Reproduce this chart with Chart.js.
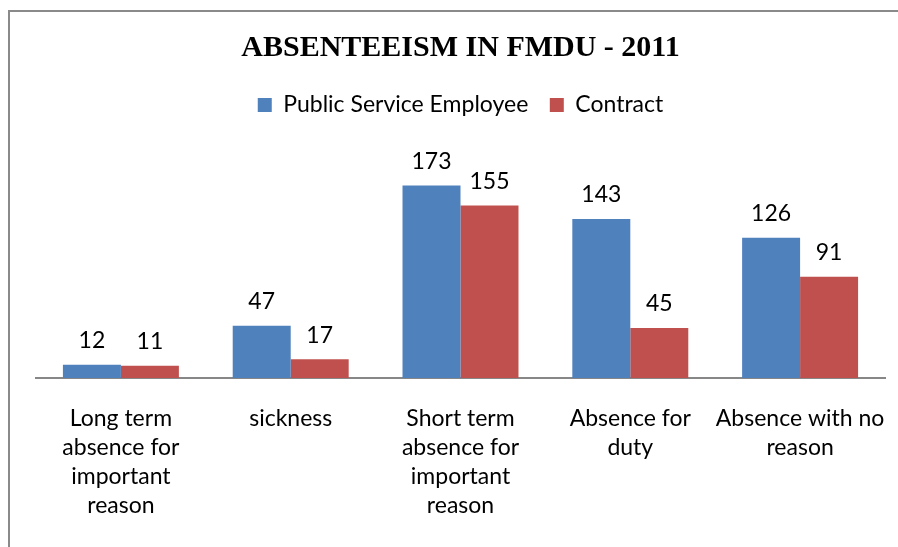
<!DOCTYPE html>
<html>
<head>
<meta charset="utf-8">
<script src="https://cdn.jsdelivr.net/npm/chart.js@4.4.1/dist/chart.umd.min.js"></script>
<style>
  html, body { margin: 0; padding: 0; background: #fff; overflow: hidden; }
  #frame {
    position: absolute; left: 8px; top: 10px; width: 960px; height: 600px;
    border-left: 2px solid #8a8a8a; border-top: 2px solid #8a8a8a;
  }
  #absChart { position: absolute; left: 0; top: 0; }
</style>
</head>
<body>
<div id="frame"></div>
<canvas id="absChart" width="898" height="547"></canvas>
<script>
const categories = [
  ["Long term", "absence for", "important", "reason"],
  ["sickness"],
  ["Short term", "absence for", "important", "reason"],
  ["Absence for", "duty"],
  ["Absence with no", "reason"],
]
const publicService = [12, 47, 173, 143, 126]
const contract = [11, 17, 155, 45, 91]
const seriesNames = ["Public Service Employee", "Contract"]

const labelFont = "Lato, 'Open Sans', sans-serif"

// numbers above each bar
const valueLabels = {
  id: "valueLabels",
  afterDatasetsDraw(chart) {
    const ctx = chart.ctx
    ctx.save()
    ctx.font = "23px " + labelFont
    ctx.fillStyle = "#000"
    ctx.textAlign = "center"
    ctx.textBaseline = "middle"
    chart.data.datasets.forEach((ds, i) => {
      chart.getDatasetMeta(i).data.forEach((bar, j) => {
        ctx.fillText(String(ds.data[j]), bar.x, bar.y - 24)
      })
    })
    ctx.restore()
  },
}

function initChart() {
  const ctx = document.getElementById("absChart").getContext("2d")
  new Chart(ctx, {
    type: "bar",
    data: {
      labels: categories,
      datasets: [
        {
          label: seriesNames[0],
          data: publicService,
          backgroundColor: "#4f81bd",
        },
        {
          label: seriesNames[1],
          data: contract,
          backgroundColor: "#c0504d",
        },
      ],
    },
    options: {
      responsive: false,
      animation: false,
      categoryPercentage: 0.683,
      barPercentage: 1,
      layout: {
        padding: { left: 36, right: 13, top: 11, bottom: 1 },
      },
      plugins: {
        title: {
          display: true,
          text: "ABSENTEEISM IN FMDU - 2011",
          color: "#000",
          font: { family: "'Liberation Serif', 'Times New Roman', serif", size: 30, weight: "bold" },
          padding: { top: 19, bottom: 6 },
        },
        legend: {
          display: true,
          labels: {
            color: "#000",
            font: { family: labelFont, size: 23 },
            boxWidth: 14,
            boxHeight: 14,
            padding: 21.5,
          },
        },
        tooltip: { enabled: false },
      },
      scales: {
        x: {
          grid: { display: false, drawTicks: false },
          border: { display: true, color: "#878787", width: 2 },
          ticks: {
            color: "#000",
            font: { family: labelFont, size: 23, lineHeight: 1.26 },
            padding: 26,
            maxRotation: 0,
            minRotation: 0,
            autoSkip: false,
          },
          // keep the axis spanning the full width, long labels may overhang
          afterFit(scale) {
            scale.paddingLeft = 0
            scale.paddingRight = 0
          },
        },
        y: {
          display: false,
          min: 0,
          max: 226,
        },
      },
    },
    plugins: [valueLabels],
  })
}

document.addEventListener("DOMContentLoaded", initChart)
</script>
</body>
</html>
